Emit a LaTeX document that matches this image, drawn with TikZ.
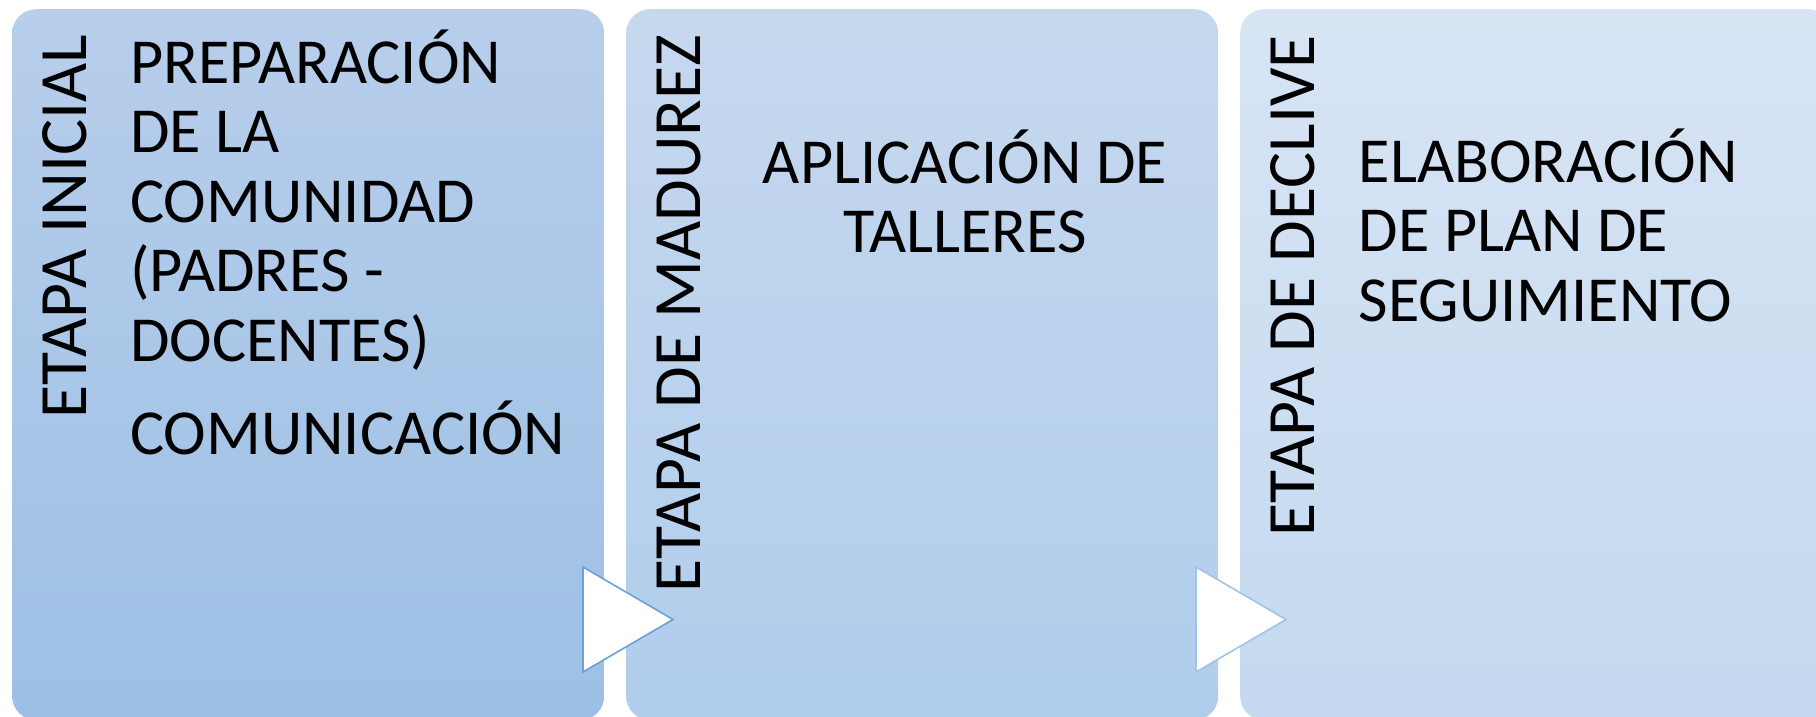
\documentclass[tikz,border=0pt]{standalone}
\usepackage{fontspec}
\setmainfont{Carlito}
\definecolor{boxAtop}{RGB}{184,206,235}
\definecolor{boxAbot}{RGB}{156,192,229}
\definecolor{boxBtop}{RGB}{198,216,238}
\definecolor{boxBbot}{RGB}{176,205,236}
\definecolor{boxCtop}{RGB}{215,228,244}
\definecolor{boxCbot}{RGB}{196,217,240}
\definecolor{triAline}{RGB}{108,160,216}
\definecolor{triBline}{RGB}{160,196,232}
\tikzset{
  stagebox/.style={rectangle, rounded corners=24pt, inner sep=0pt, anchor=north west,
    minimum width=592pt, minimum height=711pt},
  vlabel/.style={rotate=90, anchor=base east, inner sep=0pt,
    font=\fontsize{67.7}{74}\selectfont},
  body/.style={inner sep=0pt, font=\fontsize{64.2}{69.6}\selectfont},
  tri/.style={fill=white, line width=1.6pt, line join=miter}
}
\begin{document}
\begin{tikzpicture}[x=1pt,y=-1pt]
\useasboundingbox (0,0) rectangle (1816,717);
% stage boxes
\node[stagebox, top color=boxAtop, bottom color=boxAbot] (b1) at (12,9) {};
\node[stagebox, top color=boxBtop, bottom color=boxBbot] (b2) at (626,9) {};
\node[stagebox, top color=boxCtop, bottom color=boxCbot] (b3) at (1240,9) {};
% vertical titles
\node[vlabel] (t1) at (86.5,35) {ETAPA INICIAL};
\node[vlabel] (t2) at (700.5,35) {ETAPA DE MADUREZ};
\node[vlabel] (t3) at (1314.5,35) {ETAPA DE DECLIVE};
% body texts (base anchor = baseline of the last line)
\node[body, anchor=base west, align=left] (p1) at (130,361.4)
  {PREPARACIÓN\\DE LA\\COMUNIDAD\\(PADRES -\\DOCENTES)};
\node[body, anchor=base west, align=left] (p2) at (130,454) {COMUNICACIÓN};
\node[body, anchor=base, align=center] (p3) at (965,252.6) {APLICACIÓN DE\\TALLERES};
\node[body, anchor=base west, align=left] (p4) at (1358.5,321.2)
  {ELABORACIÓN\\DE PLAN DE\\SEGUIMIENTO};
% arrows between stages
\draw[tri, draw=triAline] (583,567) -- (583,672) -- (673,619.5) -- cycle;
\draw[tri, draw=triBline] (1196,567) -- (1196,672) -- (1286,619.5) -- cycle;
\end{tikzpicture}
\end{document}
